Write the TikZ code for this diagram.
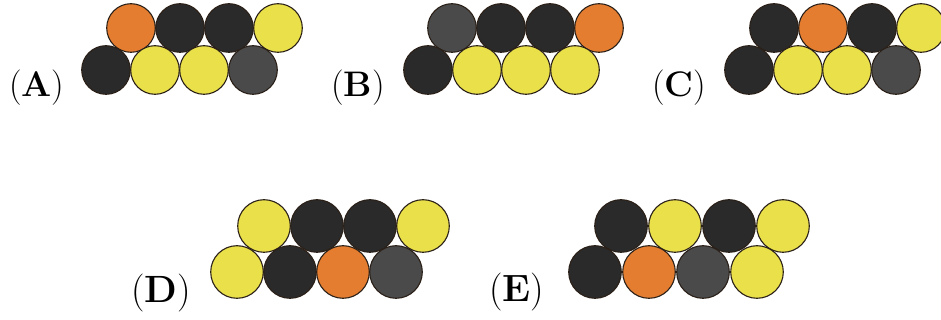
\documentclass[tikz,border=0pt]{standalone}
\usepackage{fontspec}
\definecolor{cOr}{HTML}{E47D30}
\definecolor{cBk}{HTML}{2A2A2A}
\definecolor{cGy}{HTML}{4A4A4A}
\definecolor{cYe}{HTML}{EAE04A}
\definecolor{cLn}{HTML}{2A2018}
\tikzset{
  smallball/.style={circle, draw=cLn, line width=1.1pt, minimum size=48.6pt, inner sep=0pt},
  bigball/.style={circle, draw=cLn, line width=1.1pt, minimum size=52.6pt, inner sep=0pt},
  smalllab/.style={anchor=base west, inner sep=0pt, font=\fontsize{35.5}{42}\selectfont},
  biglab/.style={anchor=base west, inner sep=0pt, font=\fontsize{38}{45}\selectfont},
}
\begin{document}
\begin{tikzpicture}[x=1pt,y=1pt]
\useasboundingbox (0,0) rectangle (941,320);
\clip (0,0) rectangle (941,320);
% ---------- (A)
\node[smalllab] (labA) at (9,223) {(\textbf{A})};
\node[smallball, fill=cOr] (a1) at (131,292) {};
\node[smallball, fill=cBk] (a2) at (180,292) {};
\node[smallball, fill=cBk] (a3) at (229,292) {};
\node[smallball, fill=cYe] (a4) at (278,292) {};
\node[smallball, fill=cBk] (a5) at (106,250) {};
\node[smallball, fill=cYe] (a6) at (155,250) {};
\node[smallball, fill=cYe] (a7) at (204,250) {};
\node[smallball, fill=cGy] (a8) at (253,250) {};
% ---------- (B)
\node[smalllab] (labB) at (331,223) {(\textbf{B})};
\node[smallball, fill=cGy] (b1) at (452,292) {};
\node[smallball, fill=cBk] (b2) at (501,292) {};
\node[smallball, fill=cBk] (b3) at (550,292) {};
\node[smallball, fill=cOr] (b4) at (599,292) {};
\node[smallball, fill=cBk] (b5) at (428,250) {};
\node[smallball, fill=cYe] (b6) at (477,250) {};
\node[smallball, fill=cYe] (b7) at (526,250) {};
\node[smallball, fill=cYe] (b8) at (575,250) {};
% ---------- (C)
\node[smalllab] (labC) at (652,223) {(\textbf{C})};
\node[smallball, fill=cBk] (c1) at (774,292) {};
\node[smallball, fill=cOr] (c2) at (823,292) {};
\node[smallball, fill=cBk] (c3) at (872,292) {};
\node[smallball, fill=cYe] (c4) at (921,292) {};
\node[smallball, fill=cBk] (c5) at (749,250) {};
\node[smallball, fill=cYe] (c6) at (798,250) {};
\node[smallball, fill=cYe] (c7) at (847,250) {};
\node[smallball, fill=cGy] (c8) at (896,250) {};
% ---------- (D)
\node[biglab] (labD) at (131,17) {(\textbf{D})};
\node[bigball, fill=cYe] (d1) at (264,94) {};
\node[bigball, fill=cBk] (d2) at (317,94) {};
\node[bigball, fill=cBk] (d3) at (370,94) {};
\node[bigball, fill=cYe] (d4) at (423,94) {};
\node[bigball, fill=cYe] (d5) at (237,48) {};
\node[bigball, fill=cBk] (d6) at (290,48) {};
\node[bigball, fill=cOr] (d7) at (343,48) {};
\node[bigball, fill=cGy] (d8) at (396,48) {};
% ---------- (E)
\node[biglab] (labE) at (489,18) {(\textbf{E})};
\node[bigball, fill=cBk] (e1) at (621,94) {};
\node[bigball, fill=cYe] (e2) at (675,94) {};
\node[bigball, fill=cBk] (e3) at (729,94) {};
\node[bigball, fill=cYe] (e4) at (783,94) {};
\node[bigball, fill=cBk] (e5) at (595,48) {};
\node[bigball, fill=cOr] (e6) at (649,48) {};
\node[bigball, fill=cGy] (e7) at (703,48) {};
\node[bigball, fill=cYe] (e8) at (757,48) {};
\end{tikzpicture}
\end{document}
